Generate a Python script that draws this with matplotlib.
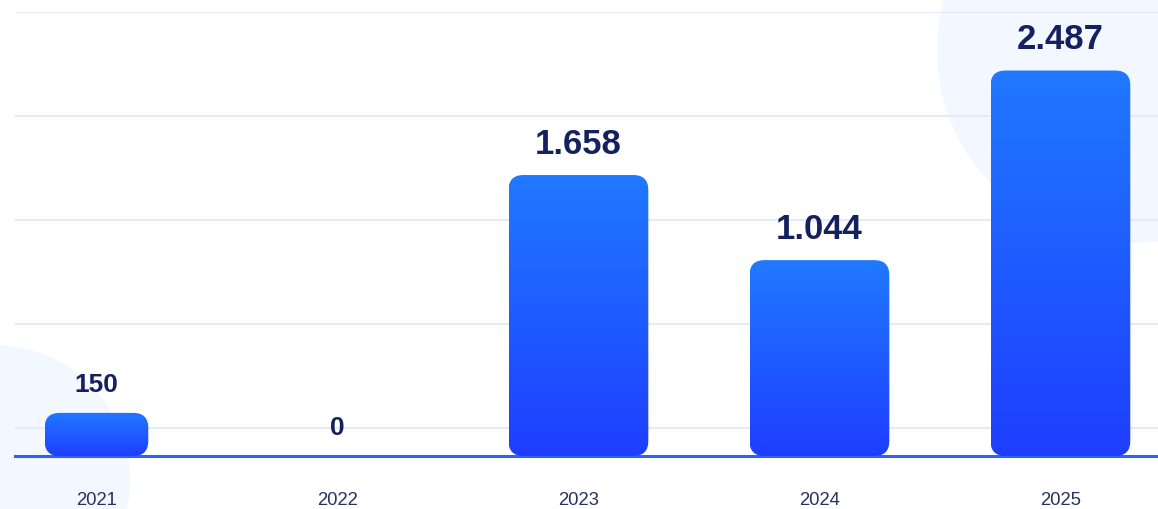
import numpy as np
import matplotlib
matplotlib.use("Agg")
import matplotlib.pyplot as plt
from matplotlib.patches import FancyBboxPatch, Circle
from matplotlib.colors import LinearSegmentedColormap

# data
years = ["2021", "2022", "2023", "2024", "2025"]
values = [150, 0, 1658, 1044, 2487]
label_sizes = [19, 19, 25, 25, 25]        # the small bars carry smaller labels
bar_widths = [0.43, 0.58, 0.58, 0.58, 0.58]

W, H = 1158, 509
navy = "#14215E"
bar_cmap = LinearSegmentedColormap.from_list("bars", ["#1E3EFF", "#2079FF"])

plt.rcParams["font.family"] = ["Liberation Sans", "DejaVu Sans"]

fig = plt.figure(figsize=(W / 100, H / 100), dpi=100)
fig.patch.set_facecolor("white")

# background decoration, pixel coordinates
bg = fig.add_axes([0, 0, 1, 1], zorder=0)
bg.set_xlim(0, W)
bg.set_ylim(H, 0)
bg.axis("off")
bg.add_patch(Circle((1130, 50), 193, color="#F3F7FF", lw=0))
bg.add_patch(Circle((-5, 480), 135, color="#F3F7FF", lw=0))

# main axes: bars are not to linear scale in the original, a power scale fits best
ax = fig.add_axes([15 / W, (H - 456) / H, (W - 15) / W, 444 / H], zorder=1)
ax.set_facecolor("none")
ax.set_yscale("function", functions=(lambda v: np.power(np.clip(v, 0, None), 0.78),
                                     lambda v: np.power(np.clip(v, 0, None), 1 / 0.78)))
x = np.arange(len(years))
ax.set_xlim(-0.338, 4.405)
ax.set_ylim(0, 2981)

bars = ax.bar(x, values, width=bar_widths, color="none", edgecolor="none")

for f in [1, 0.766, 0.532, 0.297, 0.063]:
    ax.plot([0, 1], [f, f], transform=ax.transAxes, color="#E4EAF7", lw=1.5, zorder=0)
ax.plot([0, 1], [0, 0], transform=ax.transAxes, color="#2E62F5", lw=2.2,
        clip_on=False, zorder=1)

for xi, v, fs in zip(x, values, label_sizes):
    ax.annotate(f"{v:,}".replace(",", "."), (xi, v), xytext=(0, 15.2),
                textcoords="offset points", ha="center", va="baseline",
                fontsize=fs, fontweight="bold", color=navy)

ax.set_xticks(x)
ax.set_xticklabels(years, fontsize=13.3, color="#27335F")
ax.tick_params(axis="x", length=0, pad=26)
ax.set_yticks([])
for s in ax.spines.values():
    s.set_visible(False)

# rounded gradient bars drawn on an overlay in display pixels
top = fig.add_axes([0, 0, 1, 1], zorder=2)
top.set_facecolor("none")
top.axis("off")
grad = np.linspace(0, 1, 256).reshape(-1, 1)
for b in bars:
    (x0, y0), (x1, y1) = ax.transData.transform([(b.get_x(), 0),
                                                 (b.get_x() + b.get_width(), b.get_height())])
    h = y1 - y0
    if h < 1:
        continue
    r = min(15, h / 2)
    patch = FancyBboxPatch((x0, y0), x1 - x0, h,
                           boxstyle=f"round,pad=0,rounding_size={r}",
                           facecolor="none", edgecolor="none")
    top.add_patch(patch)
    im = top.imshow(grad, extent=(x0, x1, y0, y1), origin="lower", cmap=bar_cmap,
                    aspect="auto", interpolation="bilinear")
    im.set_clip_path(patch)
top.set_xlim(0, W)
top.set_ylim(0, H)

fig.savefig("out.png", dpi=100)
